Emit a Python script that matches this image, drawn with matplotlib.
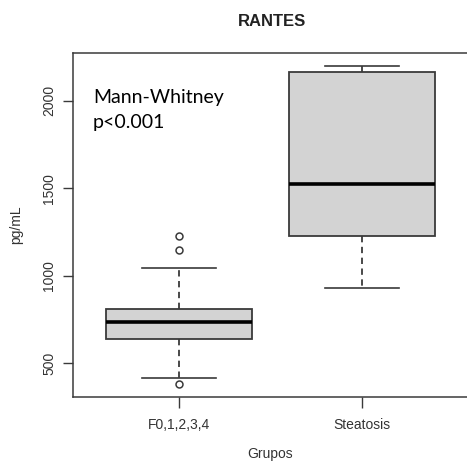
import matplotlib
matplotlib.use("Agg")
import matplotlib.pyplot as plt

INK = "#333333"; EDGE = "#3a3a3a"; FILL = "#d3d3d3"
plt.rcParams.update({"font.family": ["Liberation Sans", "DejaVu Sans"], "font.size": 10})

groups = ["F0,1,2,3,4", "Steatosis"]
q1 = [641, 1225]
med = [733, 1523]
q3 = [807, 2164]
whislo = [416, 929]
whishi = [1042, 2199]
fliers = [[1229, 1145, 380], []]
yticks = [500, 1000, 1500, 2000]

stats = [dict(label=g, q1=a, med=m, q3=b, whislo=lo, whishi=hi, fliers=f)
         for g, a, m, b, lo, hi, f in zip(groups, q1, med, q3, whislo, whishi, fliers)]

fig = plt.figure(figsize=(4.67, 4.62), dpi=100)
ax = fig.add_axes([73/467, 65/462, 395/467, 344/462])
ax.bxp(stats, positions=[1, 2], widths=0.8, patch_artist=True, showfliers=True,
       boxprops=dict(facecolor=FILL, edgecolor=EDGE, lw=1.3),
       medianprops=dict(color="black", lw=2.6, solid_capstyle="butt"),
       whiskerprops=dict(color=EDGE, lw=1.3, ls=(0, (3.5, 2.5))),
       capprops=dict(color=EDGE, lw=1.2),
       flierprops=dict(marker="o", ms=5, mfc="none", mec=EDGE, mew=1.1))
ax.set_xlim(0.42, 2.58); ax.set_ylim(307, 2272)
ax.set_yticks(yticks); ax.set_yticklabels([str(v) for v in yticks], rotation=90, va="center", color=INK)
ax.set_xticks([1, 2]); ax.set_xticklabels(groups, color=INK)
ax.tick_params(axis="y", length=7, width=1, color=EDGE, pad=5)
ax.tick_params(axis="x", length=8, width=1, color=EDGE, pad=7)
for s in ax.spines.values(): s.set_color(EDGE); s.set_linewidth(1.1)
ax.set_ylabel("pg/mL", color=INK, labelpad=14)
ax.set_xlabel("Grupos", color=INK, labelpad=11)
fig.text(272/467, 1-21/462, "RANTES", ha="center", va="center", fontsize=12, fontweight="bold", color="#222222")
fig.text(93/467, 1-103/462, "Mann-Whitney", ha="left", va="baseline", fontsize=14,
         family=["Lato", "DejaVu Sans"], color="black")
fig.text(93/467, 1-128/462, "p<0.001", ha="left", va="baseline", fontsize=14,
         family=["Lato", "DejaVu Sans"], color="black")
fig.savefig("out.png", dpi=100, facecolor="white")
